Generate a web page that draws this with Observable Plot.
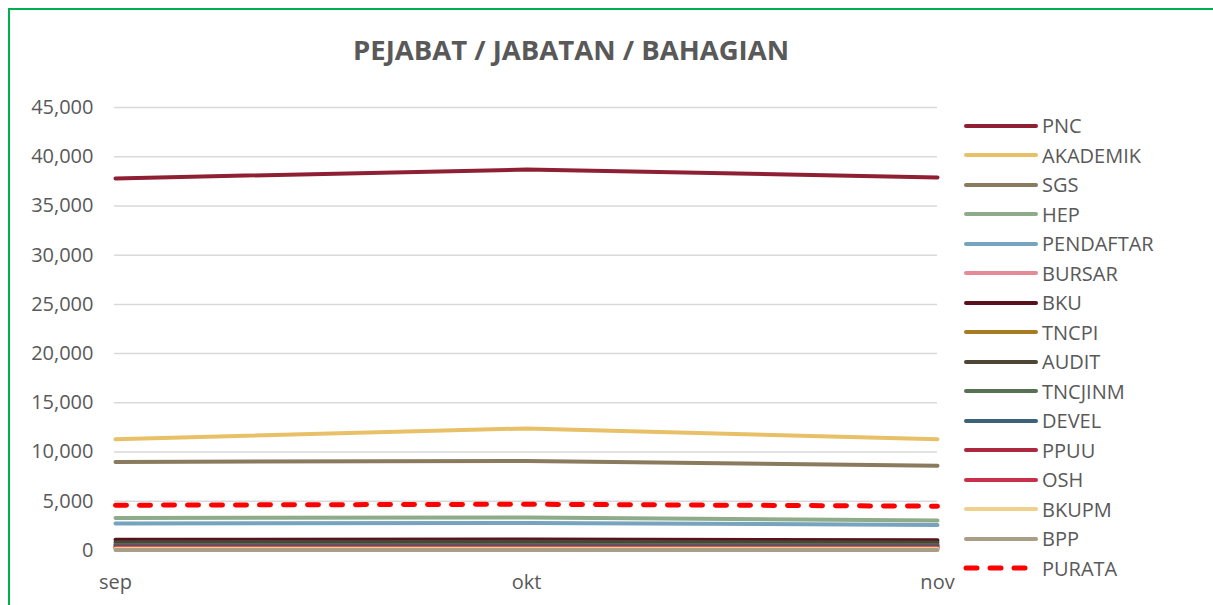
<!DOCTYPE html>
<html>
<head>
<meta charset="utf-8">
<script src="https://cdn.jsdelivr.net/npm/d3@7"></script>
<script src="https://cdn.jsdelivr.net/npm/@observablehq/plot@0.6"></script>
<style>
  html, body { margin: 0; padding: 0; background: #fff; }
  #wrap { position: relative; width: 1213px; height: 605px; overflow: hidden; font-family: "Open Sans", sans-serif; }
  #frame { position: absolute; left: 8px; top: 8px; width: 1300px; height: 700px; border-left: 2px solid #00b050; border-top: 2px solid #00b050; box-sizing: border-box; }
  #title { position: absolute; left: 0; width: 1142px; top: 31px; text-align: center; font-size: 27.5px; font-weight: 700; color: #595959; }
  #chart { position: absolute; left: 0; top: 0; }
  #legend { position: absolute; left: 962px; top: 111px; }
  .row { height: 29.5px; display: flex; align-items: center; font-size: 20px; color: #595959; }
  .row svg { margin-right: 4px; }
</style>
</head>
<body>
<div id="wrap">
  <div id="frame"></div>
  <div id="chart"></div>
  <div id="title">PEJABAT / JABATAN / BAHAGIAN</div>
  <div id="legend"></div>
</div>
<script>
const months = ["sep", "okt", "nov"];
const seriesNames = ["PNC","AKADEMIK","SGS","HEP","PENDAFTAR","BURSAR","BKU","TNCPI","AUDIT","TNCJINM","DEVEL","PPUU","OSH","BKUPM","BPP","PURATA"];
const seriesColors = ["#8f1f33","#e8c068","#8a7a5e","#8fac8a","#76a3bd","#e68a98","#57121e","#a87b22","#4e4534","#567253","#3c6178","#ad283f","#c8304a","#efd08c","#a89e85","#ff0000"];
const PNC = [37800, 38700, 37900];
const AKADEMIK = [11300, 12400, 11300];
const SGS = [9000, 9100, 8600];
const HEP = [3300, 3350, 3050];
const PENDAFTAR = [2750, 2800, 2600];
const BURSAR = [250, 260, 240];
const BKU = [1080, 1120, 1030];
const TNCPI = [600, 620, 580];
const AUDIT = [850, 880, 820];
const TNCJINM = [560, 570, 540];
const DEVEL = [470, 480, 450];
const PPUU = [320, 330, 300];
const OSH = [280, 290, 270];
const BKUPM = [180, 180, 170];
const BPP = [60, 60, 60];
const PURATA = [4600, 4700, 4500];
const yTicks = [0, 5000, 10000, 15000, 20000, 25000, 30000, 35000, 40000, 45000];

const valuesBySeries = {PNC, AKADEMIK, SGS, HEP, PENDAFTAR, BURSAR, BKU, TNCPI, AUDIT, TNCJINM, DEVEL, PPUU, OSH, BKUPM, BPP, PURATA};
const rows = [];
seriesNames.forEach(s => valuesBySeries[s].forEach((v, i) => rows.push({series: s, month: months[i], value: v})));
const solid = rows.filter(d => d.series !== "PURATA");
const avg = rows.filter(d => d.series === "PURATA");

const chart = Plot.plot({
  width: 1213,
  height: 605,
  marginLeft: 114,
  marginRight: 276,
  marginTop: 107,
  marginBottom: 55,
  style: {fontFamily: "Open Sans, sans-serif", fontSize: "20px", color: "#595959", background: "transparent"},
  x: {type: "point", domain: months, padding: 0, label: null, tickSize: 0, tickPadding: 24},
  y: {domain: [0, 45000], ticks: yTicks, tickFormat: d3.format(","), label: null, tickSize: 0, tickPadding: 21},
  color: {domain: seriesNames, range: seriesColors},
  marks: [
    Plot.ruleY(yTicks, {stroke: "#d9d9d9", strokeWidth: 1.5}),
    Plot.line(solid, {x: "month", y: "value", z: "series", stroke: "series", strokeWidth: 4, strokeLinecap: "round", strokeLinejoin: "round"}),
    Plot.line(avg, {x: "month", y: "value", stroke: "series", strokeWidth: 5, strokeDasharray: "11,13", strokeLinecap: "round"})
  ]
});
document.getElementById("chart").appendChild(chart);

const legend = document.getElementById("legend");
seriesNames.forEach((s, i) => {
  const row = document.createElement("div");
  row.className = "row";
  const dash = s === "PURATA" ? 'stroke-dasharray="11,13"' : '';
  const sw = s === "PURATA" ? 5 : 4;
  row.innerHTML = `<svg width="76" height="10"><line x1="4" y1="5" x2="74" y2="5" stroke="${seriesColors[i]}" stroke-width="${sw}" stroke-linecap="round" ${dash}/></svg><span>${s}</span>`;
  legend.appendChild(row);
});
</script>
</body>
</html>
